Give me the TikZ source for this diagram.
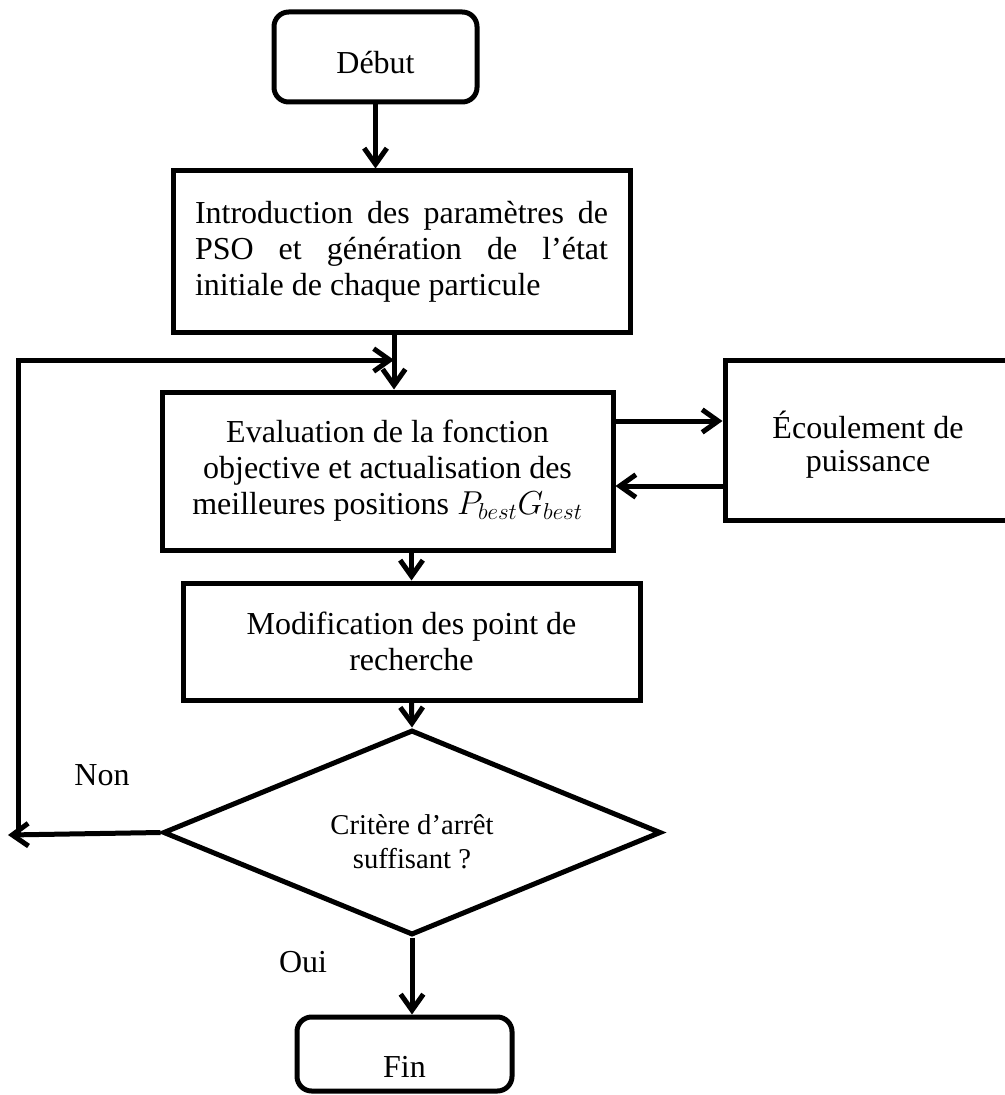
\documentclass[tikz,border=0pt]{standalone}
\usepackage{fontspec}
\setmainfont{Liberation Serif}
\usetikzlibrary{arrows.meta,shapes.geometric}
\begin{document}
\begin{tikzpicture}[x=0.75pt,y=-0.75pt,
  lw/.style={line width=3.75pt},
  box/.style={draw,lw,rectangle,inner sep=0pt,align=center,font=\fontsize{24}{27}\selectfont},
  rbox/.style={box,rounded corners=11pt},
  arr/.style={lw,-{Straight Barb[length=12pt,width=17pt]}},
  lbl/.style={inner sep=0pt,font=\fontsize{24}{27}\selectfont}]
\useasboundingbox (0,0) rectangle (1005,1095);

\node[rbox,minimum width=152.25pt,minimum height=67.5pt] (debut) at (375.5,57)
  {\raisebox{-4.5pt}[\height][\depth]{Début}};
\node[box,minimum width=342.75pt,minimum height=120.75pt] (intro) at (401.5,251.5)
  {\makebox[309.75pt][s]{Introduction des paramètres de}\\
   \makebox[309.75pt][s]{PSO et génération de l’état}\\
   \makebox[309.75pt][l]{initiale de chaque particule}};
\node[box,minimum width=338.25pt,minimum height=118.5pt] (eval) at (387.5,471)
  {Evaluation de la fonction\\objective et actualisation des\\meilleures positions $P_{best}G_{best}$};
\node[box,minimum width=214.5pt,minimum height=120pt,font=\fontsize{24}{25}\selectfont] (eco) at (868,440)
  {\raisebox{-4.5pt}[\height][\depth]{\begin{tabular}{@{}c@{}}Écoulement de\\puissance\end{tabular}}};
\node[box,minimum width=342.75pt,minimum height=87.75pt] (modif) at (411.5,641.5)
  {Modification des point de\\recherche};
\node[draw,lw,diamond,aspect=2.43,inner sep=0pt,minimum width=373.5pt,minimum height=153.75pt,
      font=\fontsize{21.5}{25.5}\selectfont] (dia) at (412,832.5)
  {\raisebox{-9pt}[\height][\depth]{\begin{tabular}{@{}c@{}}Critère d’arrêt\\suffisant ?\end{tabular}}};
\node[rbox,minimum width=161.25pt,minimum height=55.5pt] (fin) at (404.5,1054)
  {\raisebox{-9.75pt}[\height][\depth]{Fin}};

\node[lbl] (non) at (102,775) {Non};
\node[lbl] (oui) at (303,962) {Oui};

\coordinate (j) at (394,360);
\coordinate (lt) at (18,360);
\coordinate (lb) at (18,835);
\coordinate (nonend) at (8,835);
\coordinate (ya) at (0,421);
\coordinate (yb) at (0,486);

\draw[arr] (debut.south) -- (debut.south |- intro.north);
\draw[arr] (j |- intro.south) -- (j |- eval.north);
\draw[arr] (lb) -- (lt) -- (j);
\draw[arr] (eval.east |- ya) -- (eco.west |- ya);
\draw[arr] (eco.west |- yb) -- (eval.east |- yb);
\draw[arr] (modif.north |- eval.south) -- (modif.north);
\draw[arr] (modif.south) -- (dia.north);
\draw[arr] (dia.west) -- (nonend);
\draw[arr] (dia.south) -- (dia.south |- fin.north);
\end{tikzpicture}
\end{document}
